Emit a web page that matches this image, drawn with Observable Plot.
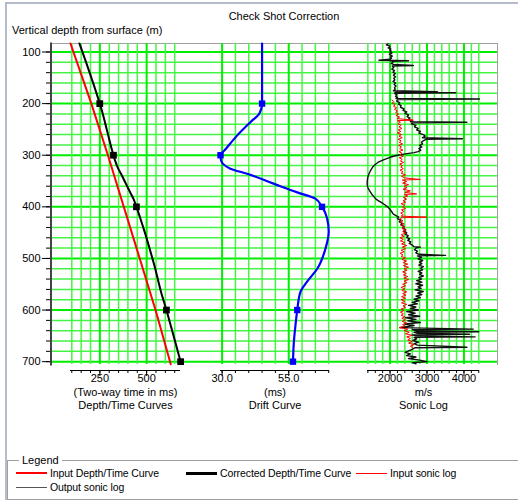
<!DOCTYPE html>
<html><head><meta charset="utf-8">
<script src="https://cdn.jsdelivr.net/npm/d3@7"></script>
<script src="https://cdn.jsdelivr.net/npm/@observablehq/plot@0.6"></script>
<style>
body{margin:0;background:#fff;font-family:"Liberation Sans",Arial,sans-serif;font-size:11px;color:#000}
#wrap{position:relative;width:518px;height:500px;overflow:hidden;background:#fff}
.abs{position:absolute;white-space:nowrap;line-height:12px}
#layers svg{position:absolute;left:0;top:0}
.lgt{font-size:10.5px;letter-spacing:-0.1px}
</style></head><body>
<div id="wrap">
  <div class="abs" style="left:5px;top:2px;width:530px;height:520px;border-left:2px solid #b4bccb;border-top:2px solid #b4bccb"></div>
  <div class="abs" style="left:0;width:568px;text-align:center;top:10px">Check Shot Correction</div>
  <div class="abs" style="left:12px;top:24px">Vertical depth from surface (m)</div>
  <div id="layers"></div>
  <div class="abs" style="left:7px;top:460px;width:520px;height:38px;border:1px solid #a0a0a0"></div>
  <div class="abs" style="left:19px;top:454px;background:#fff;padding:0 3px">Legend</div>
  <div id="legend"></div>
</div>
<script>
// ---- axes / ticks ----
const yDomain = [83.5, 705.5];
const depthLabels = [100, 200, 300, 400, 500, 600, 700];
const depthMinor = [100,120,140,160,180,200,220,240,260,280,300,320,340,360,380,400,420,440,460,480,500,520,540,560,580,600,620,640,660,680,700];

const timeExtent = [93, 681];
const timeTicks = [100,150,200,250,300,350,400,450,500,550,600,650];
const timeLabels = [250, 500];

const driftExtent = [29.4, 70.3];
const driftTicks = [30,35,40,45,50,55,60,65,70];
const driftLabels = [30, 55];

const velExtent = [1390, 4420];
const velTicks = [1400,1600,1800,2000,2200,2400,2600,2800,3000,3200,3400,3600,3800,4000,4200,4400];
const velLabels = [2000, 3000, 4000];

// ---- Depth/Time curves ----
const inputDepth = [83.5, 200, 300, 400, 500, 600, 705];
const inputTime  = [93, 204.5, 293, 378, 463, 547.6, 629];
const corrDepth = [83.5, 200, 219, 236, 262, 289, 300, 310, 326, 336, 355, 372, 384, 400, 422, 448, 481, 520, 545, 565, 600, 631, 664, 700];
const corrTime  = [141, 249.5, 265, 277, 295, 314, 322.6, 331, 348, 363, 389, 412, 429, 445.5, 466, 489, 516, 546, 563, 577, 605.8, 629.5, 654.5, 681.6];

// ---- Drift curve ----
const driftDepth = [83.5, 200, 219, 236, 262, 289, 300, 310, 326, 336, 355, 372, 384, 400, 422, 448, 481, 520, 545, 565, 600, 631, 664, 700];
const driftMs    = [45, 45, 44.0, 40.6, 35.6, 31.2, 29.4, 29.6, 33.1, 39.4, 49.3, 58.2, 65.0, 67.5, 69.4, 70.0, 68.8, 65.7, 61.9, 59.4, 58.2, 57.5, 56.9, 56.6];

// ---- check shot points ----
const checkDepth = [200, 300, 400, 600, 700];
const checkCorr  = [249.5, 322.6, 445.5, 605.8, 681.6];
const checkDrift = [45, 29.4, 67.5, 58.2, 56.6];

// ---- Sonic logs ----
const outDepth = [84,86,88,90,92,94,96,98,100,102,104,106,108,110,112,114,116,117,118,120,122,124,126,127,130,133,136,139,142,145,148,151,154,157,160,163,166,169,172,175,177,178,179,180,183,186,188,190,191,192,195,198,201,204,207,210,213,216,219,222,225,228,231,233,235,236,237,239,242,245,248,251,254,257,260,263,266,268,269,272,275,278,281,284,287,290,293,295,297,300,304,309,314,318,323,330,336,342,349,356,362,368,375,380,385,388,392,396,401,405,409,414,417,420,423,426,429,432,435,438,441,444,447,450,453,456,459,462,465,468,471,474,477,478,480,483,486,489,492,494,495,498,501,504,507,510,513,516,519,522,525,528,531,534,537,540,543,546,549,552,555,558,561,564,567,570,573,576,579,582,585,588,591,594,597,600,603,606,609,612,615,618,621,624,627,630,634,637,638,640,642,643,645,647,648,650,652,653,656,659,662,665,668,672,673,676,679,682,685,688,691,694,697,700,702,704];
const outVel = [1950,1900,1980,2000,1950,2020,1990,2030,2000,2050,1980,2020,2060,2010,2040,2000,1700,2500,2050,2080,2030,2090,2630,2060,2100,2050,2120,2080,2140,2090,2150,2100,2130,2080,2150,2110,2160,2120,2140,2090,3280,2140,3780,2120,2180,2150,2200,2160,4420,2220,2180,2260,2230,2300,2280,2380,2350,2450,2400,2500,2460,2540,2490,2600,2550,4080,2620,2580,2700,2660,2760,2720,2820,2780,2900,2950,2880,3960,2980,2900,2850,2880,2800,2860,2780,2830,2760,2650,2460,2200,2000,1820,1670,1600,1530,1470,1430,1400,1385,1380,1395,1440,1500,1560,1620,1680,1770,1860,1950,2000,2040,2090,2160,2230,2200,2290,2250,2330,2290,2380,2340,2420,2370,2450,2410,2490,2450,2530,2480,2560,2520,2600,2640,2820,2700,2660,2740,2700,2780,3500,2740,2850,2760,2880,2800,2860,2780,2900,2820,2880,2760,2860,2800,2900,2780,2850,2720,2860,2700,2880,2760,2840,2680,2900,2750,2860,2700,2820,2650,2780,2600,2740,2500,2700,2550,2760,2450,2680,2500,2800,2420,2700,2480,2820,2400,2650,2270,4250,2600,2700,4400,2650,2750,4150,2600,2700,4300,2650,2720,2620,2770,2650,2740,4080,2680,2600,2500,2410,2550,2450,2700,2500,2800,3000,2600,2700];

const inDepth = [193,196,199,202,205,208,211,214,217,220,223,226,229,232,233,236,239,242,245,248,251,254,257,260,263,266,269,272,275,278,281,284,287,290,293,296,299,302,305,308,311,314,317,320,323,326,329,332,335,338,341,344,347,348,351,354,357,360,363,366,369,372,375,376,379,382,385,388,391,394,397,400,403,406,409,412,415,418,420,421,424,427,430,433,436,439,442,445,448,451,454,457,460,463,466,469,472,475,478,481,484,487,490,493,496,499,502,505,508,511,514,517,520,523,526,529,532,535,538,541,544,547,550,553,556,559,562,565,568,571,574,577,580,583,586,589,592,595,598,601,604,607,610,613,616,619,622,625,628,631,634,637,640,643,646,649,652,655,658,661,664,667,670,673];
const inVel = [2050,2100,2060,2140,2090,2180,2120,2200,2150,2230,2160,2260,2190,2630,2200,2280,2210,2300,2240,2320,2220,2290,2200,2310,2240,2330,2220,2300,2250,2340,2230,2310,2260,2350,2240,2320,2270,2360,2250,2330,2280,2370,2260,2340,2290,2360,2270,2350,2300,2420,2310,2400,2820,2330,2450,2340,2500,2380,2460,2350,2550,2400,2720,2380,2480,2360,2450,2350,2420,2300,2400,2340,2420,2310,2380,2290,2360,2300,3000,2320,2260,2350,2280,2380,2300,2400,2320,2440,2340,2420,2300,2380,2270,2360,2280,2400,2310,2450,2330,2420,2300,2380,2270,2350,2300,2420,2320,2450,2350,2480,2360,2500,2380,2460,2340,2440,2360,2480,2370,2500,2380,2460,2340,2420,2300,2400,2320,2450,2340,2430,2310,2420,2300,2400,2310,2450,2350,2420,2300,2380,2280,2360,2300,2400,2320,2420,2330,2450,2340,2400,2250,2480,2380,2520,2420,2600,2450,2550,2480,2600,2500,2650,2550,2620];

// ---- styling constants ----
const MAJOR = "#00ee00", MINOR = "#45f545";
const FONT = '"Liberation Sans", Arial, sans-serif';

const pts = (ys, xs) => ys.map((y, i) => ({y, x: xs[i]}));

function layer(xopts, marks, base) {
  return Plot.plot({
    width: 518, height: 420,
    marginTop: 43, marginLeft: 52, marginRight: 21, marginBottom: 56,
    style: {background: "transparent", fontFamily: FONT, fontSize: "11px", color: "#000", overflow: "visible"},
    x: {...xopts, label: null},
    y: base ? {domain: yDomain, reverse: true, label: null} : {domain: yDomain, reverse: true, axis: null, label: null},
    marks
  });
}

function panelMarks(extent, ticks, labels, fmt, title1, title2) {
  const minor = ticks.filter(t => !labels.includes(t));
  const mid = (extent[0] + extent[1]) / 2;
  return [
    Plot.ruleX(minor, {stroke: MINOR, strokeWidth: 1.5}),
    Plot.ruleX(labels, {stroke: MAJOR, strokeWidth: 2}),
    Plot.ruleY([yDomain[1]], {x1: extent[0], x2: extent[1], dy: 6, stroke: "#000", strokeWidth: 1}),
    Plot.axisX(ticks, {tickSize: 3, tickFormat: () => "", dy: 6, label: null}),
    Plot.axisX(labels, {tickSize: 6, tickPadding: -2, dy: 6, tickFormat: fmt, fontSize: 11, label: null}),
    Plot.text([{x: mid, t: title1}], {x: "x", text: "t", frameAnchor: "bottom", dy: 31, fontSize: 11}),
    Plot.text([{x: mid, t: title2}], {x: "x", text: "t", frameAnchor: "bottom", dy: 44, fontSize: 11})
  ];
}

const layers = document.getElementById("layers");

// Base layer: horizontal grid, depth axis, frame, Depth/Time panel
layers.appendChild(layer({domain: timeExtent, range: [70, 180]}, [
  Plot.ruleY(depthMinor.filter(d => !depthLabels.includes(d)), {stroke: MINOR, strokeWidth: 1.5}),
  Plot.ruleY(depthLabels, {stroke: MAJOR, strokeWidth: 2}),
  Plot.frame({anchor: "top", stroke: "#a0a0a0"}),
  Plot.frame({anchor: "right", stroke: "#a0a0a0"}),
  Plot.frame({anchor: "left", stroke: "#444", strokeWidth: 2, dx: -1.5}),
  Plot.axisY(depthMinor, {tickSize: 4, tickFormat: () => "", dx: -2, label: null}),
  Plot.axisY(depthLabels, {tickSize: 8, tickPadding: 2, dx: -2, fontSize: 11, label: null}),
  ...panelMarks(timeExtent, timeTicks, timeLabels, d => String(d), "(Two-way time in ms)", "Depth/Time Curves"),
  Plot.line(pts(inputDepth, inputTime), {x: "x", y: "y", stroke: "#ff0000", strokeWidth: 2}),
  Plot.line(pts(corrDepth, corrTime), {x: "x", y: "y", stroke: "#000", strokeWidth: 2, curve: "monotone-y"}),
  Plot.dot(pts(checkDepth, checkCorr), {x: "x", y: "y", symbol: "square", r: 3.8, fill: "#000", stroke: "none"})
], true));

// Drift curve layer
layers.appendChild(layer({domain: driftExtent, range: [220, 329]}, [
  ...panelMarks(driftExtent, driftTicks, driftLabels, d => d.toFixed(1), "(ms)", "Drift Curve"),
  Plot.line(pts(driftDepth, driftMs), {x: "x", y: "y", stroke: "#0000ff", strokeWidth: 2.2, curve: "monotone-y"}),
  Plot.dot(pts(checkDepth, checkDrift), {x: "x", y: "y", symbol: "square", r: 3.6, fill: "#0000ff", stroke: "none"})
]));

// Sonic log layer
layers.appendChild(layer({domain: velExtent, range: [367, 479]}, [
  ...panelMarks(velExtent, velTicks, velLabels, d => String(d), "m/s", "Sonic Log"),
  Plot.line(pts(outDepth, outVel), {x: "x", y: "y", stroke: "#111", strokeWidth: 1.4}),
  Plot.line(pts(inDepth, inVel), {x: "x", y: "y", stroke: "#ff0000", strokeWidth: 1})
]));

// ---- Legend ----
const legendNames = ["Input Depth/Time Curve", "Corrected Depth/Time Curve", "Input sonic log", "Output sonic log"];
const legendColors = ["#ff0000", "#000000", "#ff0000", "#555555"];
const legendWidths = [2, 3, 1, 1];
const legendPos = [[16, 473], [186, 473], [356, 473], [16, 487]];
const lg = document.getElementById("legend");
legendNames.forEach((name, i) => {
  const [x, y] = legendPos[i];
  const w = legendWidths[i];
  const line = document.createElement("div");
  line.className = "abs";
  line.style.cssText = `left:${x}px;top:${y - w / 2}px;width:31px;height:${w}px;background:${legendColors[i]}`;
  lg.appendChild(line);
  const t = document.createElement("div");
  t.className = "abs lgt";
  t.style.cssText = `left:${x + 34}px;top:${y - 6}px`;
  t.textContent = name;
  lg.appendChild(t);
});
</script>
</body></html>
